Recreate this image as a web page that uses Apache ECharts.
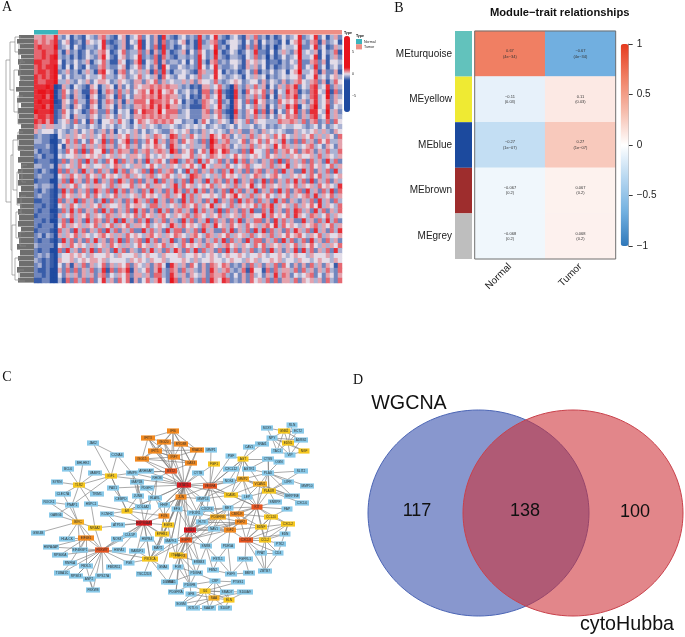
<!DOCTYPE html>
<html>
<head>
<meta charset="utf-8">
<style>html,body{margin:0;padding:0;background:#fff}#c{width:685px;height:637px}</style>
<script src="https://cdn.jsdelivr.net/npm/echarts@6/dist/echarts.min.js"></script>
</head>
<body>
<div id="c"></div>
<script>
// ---------- Panel A: coarse hand-read estimate of the expression heatmap
// digit 1 = strong blue, 5 = neutral, 9 = strong red; first six digits are Normal samples
const heatRows = [
"667668 4352432543 6743256245 7353628432 4534384358 4324532647 3424235345 83458352463",
"767678 3562342654 5832346254 8253627343 5624283467 3245542536 2534325256 84367263452",
"787779 3452532443 5843246235 8253728342 3534284458 3425532637 2424135445 93358352364",
"778778 4263423534 6752357344 7362638423 4625375349 4235423548 3325246436 94546253472",
"778789 4342423543 6853256345 8343727432 4434385348 4324432547 3414235345 94458252463",
"887788 5243534624 5742265236 8254726344 3525384267 3435542656 4523324354 83367362554",
"787889 4252532533 6743356245 7353628533 5434385358 4334532646 3524234345 83548352453",
"788789 3463424642 7854267354 6462738424 4543276448 5243423537 2435345256 94457263362",
"878789 5353443544 5744356345 7454627543 5535474458 5434542546 4524345455 73558453564",
"877889 4464354635 6653465436 6365736454 4646365547 4345653455 3635436346 75467362475",
"888981 2642543265 2465263536 5667676766 4342326645 7431743647 4625364768 35478458364",
"899891 3753642276 1476374635 6758685675 3453427736 8321842756 5736254867 24378549273",
"889791 3742643165 2365273536 6767686766 4352326745 8421843647 4725264768 35478459364",
"898891 2653744276 2476362647 7758776757 5243237654 8341753738 5634375657 46368457365",
"889792 2642653265 2465263436 6768686866 4342227645 8431753547 4625364868 25479458354",
"988892 3753542376 3374254527 5877695777 3453336736 7321843658 3726253758 36388549463",
"788782 3652644365 3465364536 6767676766 4453336645 7431743647 4635365767 36478458464",
"878682 4563735274 2556475425 7656767675 5344247534 6542654736 5544476676 47367347375",
"764664 4543544354 3545345435 4645434454 3454545345 4345354453 4534345445 54345353454",
"645553 5434635463 4636254546 3534543365 4563436454 5436463364 3645454336 45456464365",
"343321 5464656464 5746465746 4564765487 4647546486 5763546474 6564757546 46574646537",
"443311 3574735375 4837356837 3475846376 3756437397 4674457365 7475648437 37463757446",
"333421 5264647464 6746365746 3565765386 4546446386 6763546474 6564857646 45674536536",
"423321 4375738375 5837476637 4674676497 3657357497 5874437385 5473746757 36763647447",
"342331 5455646565 6456465466 5475456546 6557465476 5645756456 5475646465 65564746546",
"233321 3736473847 4375837463 6384675378 3476384754 7363847364 3647383746 47374638473",
"443341 6456475645 5645764546 6457546465 4657548546 6475456745 5647465846 56475645746",
"324321 7374638463 7463847365 4738374673 5384736474 3748463736 7364738463 38473647384",
"343331 5647564756 4756546746 5467456754 6548764546 4756546457 6456754465 65475746456",
"233311 4738463748 3647386473 7364837463 4738463847 6374836473 4837364748 47383647364",
"434431 6465745646 6547465574 6574665468 4756456574 6564746584 5746564657 46564756548",
"324321 3847364738 6473847364 3748463748 6374847363 4738473648 3647384736 73846374837",
"343321 4756465747 5465746456 4756546746 5847465565 4756856474 6575465746 56748465746",
"223321 7364837463 4837463748 6473846374 3847463748 3647384763 7463847364 36473846374",
"332321 5647546465 7465564756 6547746456 4765746584 6547465657 4768465647 46575846547",
"323311 3748473647 3847364738 4736384736 7463847463 8374637483 3748463748 74638473647",
"233321 6457465746 5476465657 4756467546 5674765465 7465647465 5847565748 65476457465",
"332311 4738463847 6374838463 7483647364 3847364837 4637483647 7363847463 38463748473",
"323331 5746564657 4657465746 6574565486 4756547648 5647564756 4675847565 46567465746",
"233321 7463847364 7384736473 3847463847 7364738463 3748364738 4837463748 64738463748",
"342431 6465746545 6756464756 5467564657 6546754764 6574656474 5647465756 75465746556",
"323321 3847363748 4637483746 7384736483 4738463647 4837463847 7364738473 47384637463",
"433331 5647565464 5647564645 7564657465 4756564765 4675646547 5746564657 46575464657",
"323311 7384637483 7463847364 3748463748 6374837463 7384736473 4738463648 38473647384",
"343421 4556565465 5565465556 4565546555 6455654565 4565565455 6545565456 55465556455",
"432321 6556456566 5645555465 6546556455 5654645565 5456554656 4556564554 65545655465",
"342321 5362647364 5736465736 5463675286 4637536376 5763436374 6364737536 36374636527",
"322311 6373736473 4827376826 4573684376 3746436386 4674347285 5273746647 37463647437",
"332311 5364636463 6735465736 6463774386 4636546376 6743536374 5364847635 45673536536",
"223311 4273747373 5846375726 3574685397 3647437386 5873436375 6473736647 36564637437"
];
const zPerDigit = 0.42;
const sampleGroups = ["Normal", "Tumor"];
const sampleWidths = [24, 284];
const heatTicksA = [-5, 0, 5];
// [top, bottom, left end] of the leaf bands of the row dendrogram
const leafBands = [[35,39,19],[39,44,17],[44,49,20],[49,55,18],[55,59,21],[59,65,18],[65,70,19],[70,76,18],[76,81,20],[81,87,19],[87,92,16],[92,98,19],[98,103,17],[103,108,21],[108,114,18],[114,119,19],[119,124,18],[124,129,21],[129,135,19],[135,140,17],[140,146,19],[146,151,18],[151,157,20],[157,163,18],[163,169,21],[169,174,18],[174,180,19],[180,186,18],[186,192,21],[192,198,19],[198,204,17],[204,209,20],[209,215,18],[215,221,19],[221,227,18],[227,232,21],[232,238,18],[238,244,19],[244,250,17],[250,256,20],[256,261,18],[261,267,19],[267,273,17],[273,278,20],[278,283,18]];
// [height, top row, top child height, bottom row, bottom child height]
const dendroMerges = [[6,60,10,202,11],[10,42,15,90,14],[15,37,21,52,19],[14,70,20,112,18],[19,44,24,60,23],[20,62,25,80,24],[18,96,23,124,22],[11,155,13,250,12],[13,140,18,190,17],[12,225,16,275,15],[18,132,23,150,24],[17,172,22,205,21],[16,212,21,238,20],[15,258,20,280,19],[22,165,27,182,26],[21,196,26,214,25],[20,232,25,246,26],[19,270,24,281,25]];

// ---------- Panel B: module-trait relationships
const modules = ["MEturquoise", "MEyellow", "MEblue", "MEbrown", "MEgrey"];
const moduleColors = ["#62C2BC", "#EFEA33", "#1C4A9E", "#9E2D2D", "#BEBEBE"];
const traits = ["Normal", "Tumor"];
const corrNormal = [0.67, -0.11, -0.27, -0.067, -0.068];
const corrTumor = [-0.67, 0.11, 0.27, 0.067, 0.068];
const pValues = ["4e\u221234", "0.03", "1e\u221207", "0.2", "0.2"];

// ---------- Panel C: PPI network (layout position of each node)
const nodeNames = [
"JAK2","CCNA4","BHLHE2","BCL6","VAMP2","SYRN","TLR2","IGF1","MMP9","MAP1B",
"ARHGAP","RHOB","PAX1","PDGFC","CLEC7A","TRIM1","CEBPD","JUNB","ELAVL","ROCK1",
"PNAP1","HSPC1","COL4A2","HHIP","AR","GARG6","KCNH2","FOS","IFIT3","ISG20",
"IFI6","IFIT1","ISG15","IRF7","BST2","MYD88","RSAD2","OAS3","MMP1","PGF",
"FGF1","AGT","CYTB","CXCL12","CAV1","SNAI1","SOX9","GNB2","ECT2","RLN",
"NPY","ADRB2","EDN1","TAC1","VIP","NGF","CTSS","OGN","AGTR1","PLAU",
"SLIT2","MMP2","NOX4","VCAM1","LIFR","MMP10","STAT1","VEGFA","PLAUR","ICAM1",
"LEP","SERPINE","JUN","MMP14","SNRPF","CXCL6","KIT","FAP","EFG","CXCR4",
"MET","PIK3R1","CMKLR","PDGFRB","CCL20","FLT3","FGF2","BDNF","CXCL2","KRAS",
"NAV1","IGF2","EDN","EGFR","CXCL8","CCL2","PTK2","SNRB","PDE5A","PPAT",
"CD4","FSTL1","FGFRL1","FGFR3","ERBB3","ZBTB7","FBN2","FGF9","BMP4","FGR",
"PDGFA","CRP","PTGS1","PDGFB","GNAI1","PDGFRA","GFB","IL6","SMAD7","S100A9",
"SAA","ELN","SGSM","KITLG","SAA3P","S100P","BIRC","HSP90AA1","EGR1","NR4A2",
"ATP5G","GSK4B","EPHB1","HLA-CK","EIF4E1","NOS3","CUL5P","HSPB4","MAPK1","HSPA4AP",
"EIF4EBP1","FBXW7","HSPA1","RAB5F1","MAP2","RPS6KA","PIK3CA","ITGB1","RNF6A","FBXL5",
"FBXW11","PGK","GNA4","TUBA1C","RPSK3","RPS27A","ANP2","TSC22D3","FBXW8","DUSP4"];
const nodeX = [
93,117,83,68,95,57,79,111,132,137,
146,157,113,147,63,97,121,138,155,49,
72,91,143,164,127,56,107,164,148,164,
173,155,142,174,171,181,197,191,211,231,
214,243,198,231,249,262,267,284,298,292,
272,301,288,277,290,304,268,279,249,268,
301,243,229,260,288,307,184,210,269,231,
247,292,181,203,275,302,257,287,177,207,
228,195,237,218,271,202,241,261,288,190,
214,230,285,186,246,265,280,206,228,261,
278,218,245,180,199,265,213,231,249,178,
196,215,238,190,171,176,191,205,227,245,
214,229,181,193,209,225,78,144,168,95,
118,38,162,67,86,117,130,147,171,51,
80,102,119,137,158,60,150,176,70,86,
114,129,163,62,76,103,89,144,93,168];
const nodeY = [
443,455,463,469,473,482,485,476,473,482,
471,478,488,488,494,494,499,496,498,502,
505,504,507,505,511,515,514,516,438,442,
431,451,459,457,471,444,450,463,450,456,
464,459,473,469,447,444,428,431,431,425,
438,440,443,451,455,451,459,462,469,473,
471,479,481,484,482,486,485,486,491,495,
497,496,497,499,502,503,507,509,509,509,
508,513,514,517,517,522,522,527,524,530,
529,530,534,540,540,540,544,546,546,553,
553,559,559,556,562,571,570,574,573,567,
573,581,582,585,582,592,594,591,592,592,
598,600,604,608,608,608,522,523,525,528,
525,533,534,539,538,539,535,539,541,547,
550,550,550,551,548,555,559,555,563,566,
567,563,567,573,576,576,579,574,590,582];
const nodeTier = [
0,0,0,0,0,0,1,1,0,0,
0,0,0,0,0,0,0,0,0,0,
0,0,0,0,1,0,0,3,3,3,
3,3,3,3,4,3,3,3,0,0,
1,1,0,0,0,0,0,1,0,0,
0,0,1,0,0,1,0,0,0,0,
0,2,0,2,0,0,5,4,1,1,
0,0,3,0,0,0,4,0,0,0,
0,0,3,2,1,0,3,1,1,5,
0,3,0,4,4,1,0,0,0,0,
0,0,0,2,0,0,0,0,0,0,
0,0,0,0,0,0,0,1,0,0,
2,1,0,0,0,0,2,5,1,1,
0,0,1,0,3,0,0,0,0,0,
0,4,0,0,0,0,1,1,0,0,
0,0,0,0,0,0,0,0,0,0];
const tierColors = ["#88C9E9", "#F6C71E", "#F5AE22", "#F2891F", "#E9541F", "#D9181F"];
const edgeLists = [
"TLR2 BHLHE2 BCL6 SYRN VAMP2 CLEC7A PNAP1 TRIM1 IGF1 HSPC1",
"IGF1 JAK2 CCNA4 PNAP1 MMP9 CEBPD VAMP2 STAT1 AR",
"CCNA4 JAK2 MMP9","PNAP1 ROCK1 GARG6 BIRC","CLEC7A BIRC",
"MMP9 MAP1B JUNB BST2 STAT1","MAP1B PDGFC JUNB HHIP COL4A2 HSP90AA1",
"RHOB BST2 ELAVL HSP90AA1","ARHGAP BST2 STAT1","PAX1 CEBPD STAT1","CEBPD AR COL4A2",
"AR HSP90AA1 JUNB COL4A2 FOS KCNH2 HSPC1 ELAVL STAT1","ELAVL STAT1 FOS HHIP","HHIP STAT1 FOS JUN",
"KCNH2 HSP90AA1 ATP5G","HSPC1 NR4A2","BIRC GSK4B HLA-CK EIF4E1 NR4A2 FBXW7 EIF4EBP1 ROCK1 GARG6",
"EIF4E1 HLA-CK FBXW7 HSPA4AP EIF4EBP1 RPS6KA RNF6A FBXL5",
"FBXW7 HSPA4AP EIF4EBP1 RPS6KA RNF6A FBXL5 TUBA1C RPSK3 ANP2 FBXW8 RPS27A FBXW11 HSPA1 NOS3 NR4A2 HSP90AA1 CUL5P",
"HSP90AA1 NR4A2 ATP5G NOS3 CUL5P HSPB4 RAB5F1 EPHB1 FOS EGR1 STAT1 MAP2 MAPK1 PIK3CA HSPA1",
"PIK3CA PGK TSC22D3 GNA4 RAB5F1 MAP2 HSPB4 FBXW7 KRAS EGR1","PGK RAB5F1 HSPB4 FBXW7",
"TUBA1C RNF6A RPSK3","RPSK3 ANP2 FBXL5","ANP2 FBXW8","FBXL5 FBXW8",
"IFIT3 ISG20 IFI6 IFIT1 ISG15 IRF7 BST2 STAT1","ISG20 IFI6 IFIT1 ISG15 IRF7 BST2 STAT1 MYD88",
"IFI6 IRF7 MYD88 RSAD2 OAS3 IFIT1 BST2","IFIT1 ISG15 IRF7 BST2 STAT1 OAS3 RSAD2","ISG15 IRF7 BST2 STAT1 OAS3",
"IRF7 BST2 STAT1 OAS3 RSAD2 MYD88","MYD88 RSAD2 OAS3 STAT1","RSAD2 OAS3 STAT1","OAS3 BST2 STAT1","BST2 STAT1 JUN",
"STAT1 VEGFA JUN CYTB FGF1 MMP14 EGFR KRAS EFG MAPK1 MAP2 FOS CXCR4 EGR1 FLT3 NOX4 ICAM1",
"VEGFA MMP1 PGF FGF1 AGT CXCL12 CYTB NOX4 MMP2 ICAM1 KIT MMP14 JUN KRAS EGFR CXCR4 MET PDGFRB",
"AGT PGF AGTR1 CAV1 CXCL12 NOX4 MMP2 VCAM1 CTSS ICAM1 SNAI1","SNAI1 CAV1","NPY TAC1 SOX9 VIP EDN1 GNB2 ADRB2 SNAI1 NGF",
"GNB2 SOX9 RLN ECT2 EDN1 ADRB2 TAC1","EDN1 ECT2 ADRB2 TAC1 VIP NGF RLN","VIP TAC1 NGF ADRB2",
"CTSS OGN AGTR1 PLAU PLAUR","OGN PLAU","PLAU AGTR1 SLIT2 MMP2 VCAM1 LIFR PLAUR SERPINE MMP10 KIT",
"MMP2 NOX4 ICAM1 VCAM1 KIT LEP MMP14 SERPINE PLAUR","VCAM1 ICAM1 LEP KIT PLAUR SERPINE",
"PLAUR KIT LEP SLIT2 LIFR SERPINE SNRPF CXCL6","ICAM1 KIT LEP MMP14","LEP KIT MET CMKLR",
"KIT MET CMKLR PDGFRB FGF2 IGF2 CCL20 BDNF CXCL2 SNRPF FAP CXCL8 CCL2","CCL20 BDNF CXCL2 CXCL8 CCL2 CMKLR FAP",
"BDNF CMKLR FGF2 CXCL8 CCL2 CXCL2 IGF2","CXCL2 EDN CCL2 CXCL8 CD4","CXCL8 FGF2 IGF2 CCL2 FGFRL1 EDN PPAT CD4 ZBTB7",
"CCL2 EDN PPAT CD4 ZBTB7 PTK2","PPAT ZBTB7 CD4","CD4 ZBTB7","FGF2 PDGFRB CMKLR IGF2 KRAS EGFR FLT3 NAV1 MET",
"PDGFRB PIK3R1 CMKLR MET IGF2 KRAS EGFR FLT3 CXCR4 PDGFA FGFR3","KRAS PIK3R1 FLT3 EFG JUN EGFR NAV1 IGF2 CXCR4 MET ERBB3 SNRB",
"EGFR FGFR3 ERBB3 FGR PDGFA PDGFB SNRB FLT3 PIK3R1 IGF2 MAPK1 PIK3CA","IGF2 NAV1 SNRB PDE5A MET","SNRB FSTL1 FBN2",
"PDE5A FSTL1 FGF9","FSTL1 FGF9 FBN2","FGFRL1 FGF9 BMP4","FGF9 BMP4 FBN2","FGFR3 ERBB3 FGR PDGFA PDGFB PDGFRA",
"PDGFA PDGFB GNAI1 CRP","FGR PDGFA PDGFB PDGFRA","PDGFB PDGFRA GFB CRP IL6","CRP IL6 SAA PTGS1 ELN",
"IL6 GFB SMAD7 S100A9 SAA SGSM KITLG SAA3P ELN PTGS1","SAA GFB SMAD7 S100A9 ELN SGSM KITLG SAA3P S100P",
"ELN S100P SAA3P SMAD7 S100A9","SGSM KITLG GFB","KITLG SAA3P","PIK3R1 JUN EFG MMP14 CXCR4 MET","MET NAV1 FLT3 CXCR4",
"JUN EFG MMP14 HHIP MAPK1 PIK3CA EGR1","EGR1 FOS MAPK1 EPHB1","FOS EPHB1 MAP2","DUSP4 EGFR PIK3CA","GNA4 MAPK1","ITGB1 KRAS STAT1 MAPK1"];

// ---------- Panel D: Venn diagram
const vennSets = ["WGCNA", "cytoHubba"];
const vennCx = [478.5, 573];
const vennCy = [513, 513];
const vennRx = [110.5, 110];
const vennRy = [103, 103];
const vennRegionCounts = [117, 138, 100];
const vennRegionX = [417, 525, 635];
const vennRegionY = [511, 511, 512];

// ---------- option building
const FONT = '"Liberation Sans", Arial, sans-serif';
const heatGrid = heatRows.map(r => r.replace(/ /g, ''));
const nCols = heatGrid[0].length;
const heatData = [];
heatGrid.forEach((row, r) => { for (let c = 0; c < nCols; c++) heatData.push([c, r, (Number(row[c] || 5) - 5) * zPerDigit]); });
const fmtMinus = v => String(v).replace('-', '\u2212');
const bData = [];
modules.forEach((m, r) => { bData.push([0, r, corrNormal[r]]); bData.push([1, r, corrTumor[r]]); });

const known = new Set(nodeNames);
const netLinks = [];
edgeLists.forEach(s => { const p = s.split(' '); p.slice(1).forEach(t => { if (known.has(p[0]) && known.has(t)) netLinks.push({ source: p[0], target: t }); }); });
const netNodes = nodeNames.map((n, i) => ({
  name: n, value: [nodeX[i], nodeY[i]],
  symbolSize: [Math.min(16, Math.max(11, n.length * 2 + 4)), 5.2],
  itemStyle: { color: tierColors[nodeTier[i]] }
}));

const hidden = { show: false };
const pageText = (text, x, y, size, extra) => ({ type: 'text', x, y, silent: true, z: 20, style: Object.assign({ text, fontSize: size, fontFamily: FONT, fill: '#111', textAlign: 'center', textVerticalAlign: 'middle' }, extra || {}) });

const option = {
  animation: false,
  textStyle: { fontFamily: FONT },
  grid: [
    { left: 34, top: 35, width: 308, height: 248 },
    { left: 34, top: 30, width: 308, height: 4.5 },
    { left: 0, top: 35, width: 34, height: 248 },
    { left: 344, top: 36, width: 6, height: 76 },
    { left: 474.7, top: 31, width: 141, height: 228, show: true, z: 5, backgroundColor: 'transparent', borderColor: '#707070', borderWidth: 1 },
    { left: 455, top: 31, width: 17, height: 228 },
    { left: 620.7, top: 44, width: 8, height: 202 },
    { left: 0, top: 390, width: 345, height: 247 },
    { left: 350, top: 370, width: 335, height: 267 }
  ],
  xAxis: [
    { gridIndex: 0, type: 'category', show: false, data: Array.from({ length: nCols }, (_, i) => i) },
    { gridIndex: 1, type: 'value', show: false, min: 0, max: 308 },
    { gridIndex: 2, type: 'value', show: false, min: 0, max: 34 },
    { gridIndex: 3, type: 'value', show: false, min: 0, max: 1 },
    { gridIndex: 4, type: 'category', data: traits, axisLine: hidden, axisTick: hidden, axisLabel: { rotate: 45, fontSize: 10, margin: 6, color: '#222' } },
    { gridIndex: 5, type: 'value', show: false, min: 0, max: 1 },
    { gridIndex: 6, type: 'value', show: false, min: 0, max: 1 },
    { gridIndex: 7, type: 'value', show: false, min: 0, max: 345 },
    { gridIndex: 8, type: 'value', show: false, min: 350, max: 685 }
  ],
  yAxis: [
    { gridIndex: 0, type: 'category', show: false, inverse: true, data: heatGrid.map((_, i) => i) },
    { gridIndex: 1, type: 'category', show: false, data: ['Type'] },
    { gridIndex: 2, type: 'value', show: false, inverse: true, min: 35, max: 283 },
    { gridIndex: 3, type: 'value', position: 'right', min: -8.7, max: 8.7, splitLine: hidden,
      axisLine: { show: false, onZero: false },
      axisTick: { customValues: heatTicksA, length: 1, lineStyle: { color: '#fff', width: 0.5 } },
      axisLabel: { customValues: heatTicksA, fontSize: 3.6, margin: 2, color: '#222', formatter: fmtMinus } },
    { gridIndex: 4, type: 'category', show: false, inverse: true, data: modules },
    { gridIndex: 5, type: 'category', inverse: true, data: modules, axisLine: hidden, axisTick: hidden, axisLabel: { fontSize: 10, margin: 3, color: '#222' } },
    { gridIndex: 6, type: 'value', position: 'right', min: -1, max: 1, interval: 0.5, splitLine: hidden,
      axisLine: { show: true, onZero: false, lineStyle: { color: '#555', width: 0.6 } },
      axisTick: { show: true, length: 4, lineStyle: { color: '#222', width: 0.9 } },
      axisLabel: { fontSize: 10, margin: 8, color: '#222', formatter: fmtMinus } },
    { gridIndex: 7, type: 'value', show: false, inverse: true, min: 390, max: 637 },
    { gridIndex: 8, type: 'value', show: false, inverse: true, min: 370, max: 637 }
  ],
  legend: {
    left: 356, top: 39, orient: 'vertical', padding: 0, itemGap: 0, itemWidth: 6, itemHeight: 5.2, icon: 'rect', selectedMode: false,
    data: sampleGroups, textStyle: { fontSize: 3.6, padding: [0, 0, 0, -3], color: '#222' }
  },
  visualMap: [
    { type: 'continuous', seriesIndex: 0, dimension: 2, min: -8.7, max: 8.7, left: 344, top: 36, itemWidth: 6, itemHeight: 76, padding: 0, calculable: false, hoverLink: false, text: null, showLabel: false,
      inRange: { symbolSize: [6, 6], color: ['#1F4AA0','#1F4AA0','#1F4AA0','#1F4AA0','#1F4AA0','#1F4AA0','#E3DCE8','#E8141C','#E8141C','#E8141C','#E8141C','#E8141C','#E8141C'] } },
    { type: 'continuous', seriesIndex: 4, dimension: 2, min: -1, max: 1, left: 620.7, top: 44, itemWidth: 8, itemHeight: 202, padding: 0, calculable: false, hoverLink: false, text: null, showLabel: false,
      inRange: { symbolSize: [8, 8], color: ['#2F78BA', '#72B0E0', '#B5D6F0', '#FFFFFF', '#F6BCAC', '#F08064', '#E63A1E'] } }
  ],
  series: [
    { type: 'heatmap', xAxisIndex: 0, yAxisIndex: 0, data: heatData, progressive: 0, silent: true },
    { type: 'bar', name: sampleGroups[0], stack: 'a', xAxisIndex: 1, yAxisIndex: 1, barWidth: '100%', data: [sampleWidths[0]], itemStyle: { color: '#3CB4BC' }, silent: true },
    { type: 'bar', name: sampleGroups[1], stack: 'a', xAxisIndex: 1, yAxisIndex: 1, barWidth: '100%', data: [sampleWidths[1]], itemStyle: { color: '#EE8E84' }, silent: true },
    { type: 'custom', xAxisIndex: 2, yAxisIndex: 2, data: leafBands, encode: { x: 2, y: 0 }, silent: true,
      renderItem: (p, api) => {
        const a = api.coord([api.value(2), api.value(0)]), b = api.coord([34, api.value(1)]);
        return { type: 'rect', shape: { x: a[0], y: a[1], width: b[0] - a[0], height: b[1] - a[1] - 0.4 }, style: { fill: '#6E6E6E' } };
      } },
    { type: 'heatmap', xAxisIndex: 4, yAxisIndex: 4, data: bData, silent: true,
      label: { show: true, fontSize: 4, lineHeight: 5.5, color: '#333',
        formatter: p => fmtMinus(p.value[2]) + '\n(' + pValues[p.value[1]] + ')' } },
    { type: 'bar', xAxisIndex: 5, yAxisIndex: 5, barWidth: '100%', silent: true,
      data: modules.map((m, i) => ({ value: 1, itemStyle: { color: moduleColors[i] } })) },
    { type: 'custom', xAxisIndex: 2, yAxisIndex: 2, data: dendroMerges, encode: { x: 0, y: 1 }, silent: true,
      renderItem: (p, api) => {
        const P = (x, y) => api.coord([x, y]);
        const x = api.value(0), y1 = api.value(1), x1 = api.value(2), y2 = api.value(3), x2 = api.value(4);
        const st = { stroke: '#8C8C8C', lineWidth: 0.7, fill: 'none' };
        return { type: 'polyline', shape: { points: [P(x1, y1), P(x, y1), P(x, y2), P(x2, y2)] }, style: st };
      } },
    { type: 'graph', coordinateSystem: 'cartesian2d', xAxisIndex: 7, yAxisIndex: 7, roam: false, silent: true,
      symbol: 'rect', data: netNodes, links: netLinks,
      lineStyle: { color: '#7C7C7C', width: 0.65, opacity: 1, curveness: 0 },
      label: { show: true, position: 'inside', fontSize: 3.2, color: '#333', formatter: '{b}' } },
    { type: 'custom', xAxisIndex: 8, yAxisIndex: 8, data: vennSets.map((s, i) => [vennCx[i], vennCy[i], vennRx[i], vennRy[i], i]), encode: { x: 0, y: 1 }, silent: true,
      renderItem: (p, api) => {
        const c = api.coord([api.value(0), api.value(1)]), sz = api.size([api.value(2), api.value(3)]);
        const blue = api.value(4) === 0;
        return { type: 'ellipse', shape: { cx: c[0], cy: c[1], rx: sz[0], ry: sz[1] },
          style: blue ? { fill: 'rgba(50,75,170,0.58)', stroke: '#4A64B4', lineWidth: 1 } : { fill: 'rgba(205,47,53,0.58)', stroke: '#C8404A', lineWidth: 1 } };
      } },
    { type: 'scatter', xAxisIndex: 8, yAxisIndex: 8, symbolSize: 1, itemStyle: { color: 'transparent', opacity: 1 }, silent: true, z: 6,
      data: vennRegionCounts.map((v, i) => [vennRegionX[i], vennRegionY[i], v]),
      label: { show: true, position: 'inside', fontSize: 18, color: '#111', opacity: 1, formatter: p => String(p.value[2]) } },
    { type: 'scatter', xAxisIndex: 8, yAxisIndex: 8, symbolSize: 1, itemStyle: { color: 'transparent', opacity: 1 }, silent: true, z: 6,
      data: [[409, 404, vennSets[0]], [627, 625, vennSets[1]]],
      label: { show: true, position: 'inside', fontSize: 19.7, color: '#111', opacity: 1, formatter: p => p.value[2] } }
  ],
  graphic: [
    pageText('A', 7, 7, 14, { fontFamily: '"Liberation Serif"' }),
    pageText('B', 399, 8, 14, { fontFamily: '"Liberation Serif"' }),
    pageText('C', 7, 377, 14, { fontFamily: '"Liberation Serif"' }),
    pageText('D', 358, 380, 14, { fontFamily: '"Liberation Serif"' }),
    pageText('Module\u2212trait relationships', 559.7, 13, 11.2, { fontWeight: 'bold' }),
    pageText('Type', 348, 32.5, 3.6, { fontWeight: 'bold' }),
    pageText('Type', 360, 36, 3.6, { fontWeight: 'bold' })
  ]
};
echarts.init(document.getElementById('c'), null, { renderer: 'canvas' }).setOption(option);
</script>
</body>
</html>
